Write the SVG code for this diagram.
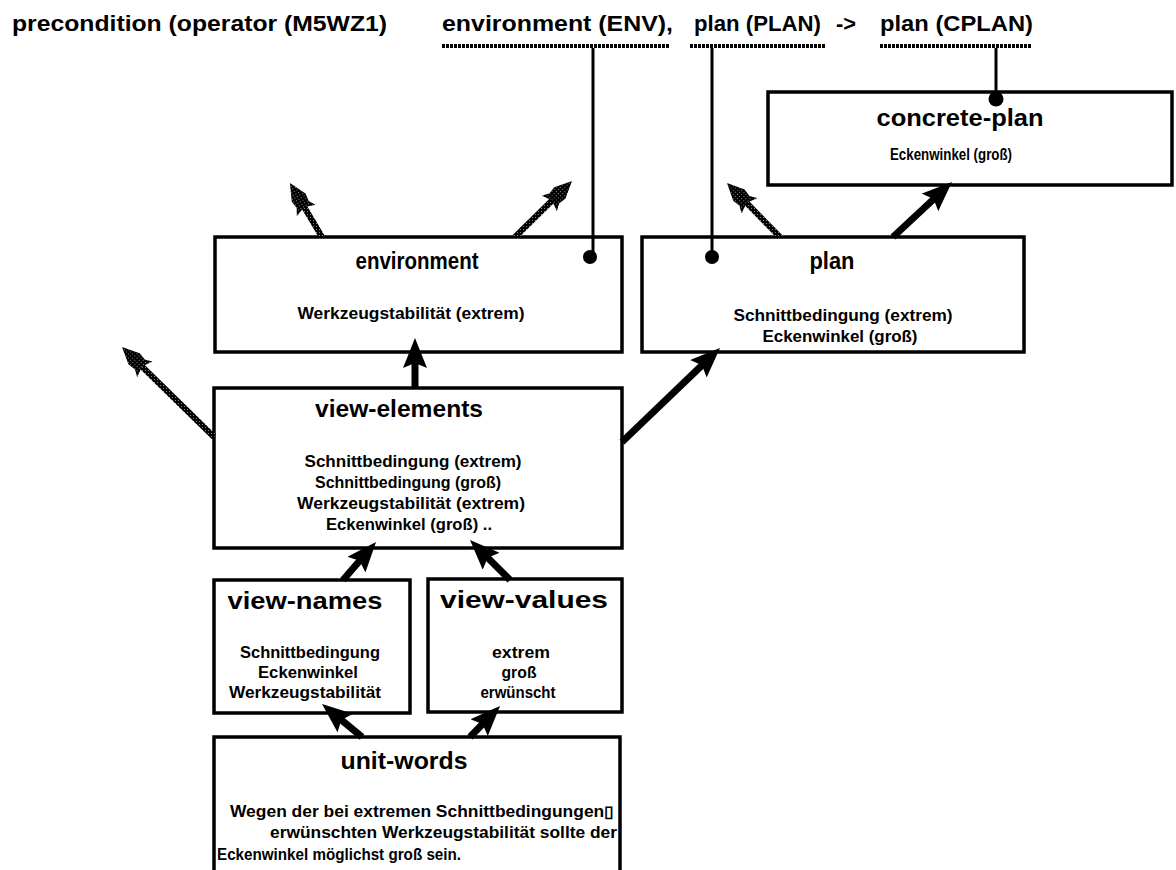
<svg xmlns="http://www.w3.org/2000/svg" width="1176" height="870" viewBox="0 0 1176 870">
<defs>
<pattern id="stip" width="3" height="3" patternUnits="userSpaceOnUse"><rect width="3" height="3" fill="#000"/><rect x="1" y="1" width="1" height="1" fill="#888"/></pattern>
<marker id="ah" viewBox="0 0 30 24" refX="15" refY="12" markerWidth="30" markerHeight="24" markerUnits="userSpaceOnUse" orient="auto"><path d="M0,0 L30,12 L0,24 L5,12 Z" fill="#000"/></marker>
<marker id="ag" viewBox="0 0 32 22" refX="17" refY="11" markerWidth="32" markerHeight="22" markerUnits="userSpaceOnUse" orient="auto"><path d="M0,0 L7,4 L15,3 L32,11 L15,19 L7,18 L0,22 L4,11 Z" fill="url(#stip)"/></marker>
<style>
.box{fill:#fff;stroke:#000;stroke-width:3.5}
.t{font-family:"Liberation Sans",Arial,sans-serif;font-weight:bold;fill:#000}
.h{font-size:22px}
.ti{font-size:24px;text-anchor:middle}
.b{font-size:16px;text-anchor:middle}
.bl{font-size:16px}
.ul{stroke:#000;stroke-width:4;stroke-dasharray:3 1;fill:none}
.ln{stroke:#000;stroke-width:3;fill:none}
.ab{stroke:#000;stroke-width:7;fill:none;marker-end:url(#ah)}
.ag{stroke:url(#stip);stroke-width:6;fill:none;marker-end:url(#ag)}
</style>
</defs>
<rect width="1176" height="870" fill="#fff"/>
<g id="header">
<text class="t h" x="12" y="31" textLength="375" lengthAdjust="spacingAndGlyphs">precondition (operator (M5WZ1)</text>
<text class="t h" x="442" y="31" textLength="231" lengthAdjust="spacingAndGlyphs">environment (ENV),</text>
<text class="t h" x="694" y="31" textLength="127" lengthAdjust="spacingAndGlyphs">plan (PLAN)</text>
<text class="t h" x="836" y="31" textLength="20" lengthAdjust="spacingAndGlyphs">-&gt;</text>
<text class="t h" x="880" y="31" textLength="153" lengthAdjust="spacingAndGlyphs">plan (CPLAN)</text>
<path class="ul" d="M442,46 H670 M690,46 H826 M880,46 H1032"/>
</g>
<g id="concrete-plan">
<rect class="box" x="768" y="92" width="404" height="93"/>
<text class="t ti" x="960" y="126" textLength="167" lengthAdjust="spacingAndGlyphs">concrete-plan</text>
<text class="t b" x="951" y="160" textLength="122" lengthAdjust="spacingAndGlyphs">Eckenwinkel (groß)</text>
</g>
<g id="environment">
<rect class="box" x="215" y="237" width="407" height="115"/>
<text class="t ti" x="417" y="269" textLength="123" lengthAdjust="spacingAndGlyphs">environment</text>
<text class="t b" x="411" y="319" textLength="227" lengthAdjust="spacingAndGlyphs">Werkzeugstabilität (extrem)</text>
</g>
<g id="plan">
<rect class="box" x="642" y="237" width="382" height="115"/>
<text class="t ti" x="832" y="269" textLength="45" lengthAdjust="spacingAndGlyphs">plan</text>
<text class="t b" x="843" y="321" textLength="219" lengthAdjust="spacingAndGlyphs">Schnittbedingung (extrem)</text>
<text class="t b" x="840" y="342" textLength="155" lengthAdjust="spacingAndGlyphs">Eckenwinkel (groß)</text>
</g>
<g id="view-elements">
<rect class="box" x="214" y="388" width="408" height="160"/>
<text class="t ti" x="399" y="417" textLength="168" lengthAdjust="spacingAndGlyphs">view-elements</text>
<text class="t b" x="413" y="467" textLength="217" lengthAdjust="spacingAndGlyphs">Schnittbedingung (extrem)</text>
<text class="t b" x="408" y="488" textLength="186" lengthAdjust="spacingAndGlyphs">Schnittbedingung (groß)</text>
<text class="t b" x="411" y="509" textLength="228" lengthAdjust="spacingAndGlyphs">Werkzeugstabilität (extrem)</text>
<text class="t b" x="409" y="530" textLength="166" lengthAdjust="spacingAndGlyphs">Eckenwinkel (groß) ..</text>
</g>
<g id="view-names">
<rect class="box" x="214" y="580" width="196" height="133"/>
<text class="t ti" x="305" y="609" textLength="155" lengthAdjust="spacingAndGlyphs">view-names</text>
<text class="t b" x="310" y="658" textLength="140" lengthAdjust="spacingAndGlyphs">Schnittbedingung</text>
<text class="t b" x="308" y="678" textLength="100" lengthAdjust="spacingAndGlyphs">Eckenwinkel</text>
<text class="t b" x="305" y="698" textLength="152" lengthAdjust="spacingAndGlyphs">Werkzeugstabilität</text>
</g>
<g id="view-values">
<rect class="box" x="428" y="579" width="194" height="133"/>
<text class="t ti" x="524" y="608" textLength="168" lengthAdjust="spacingAndGlyphs">view-values</text>
<text class="t b" x="521" y="658" textLength="58" lengthAdjust="spacingAndGlyphs">extrem</text>
<text class="t b" x="519" y="678" textLength="35" lengthAdjust="spacingAndGlyphs">groß</text>
<text class="t b" x="518" y="698" textLength="75" lengthAdjust="spacingAndGlyphs">erwünscht</text>
</g>
<g id="unit-words">
<rect class="box" x="214" y="737" width="406" height="150"/>
<text class="t ti" x="404" y="769" textLength="127" lengthAdjust="spacingAndGlyphs">unit-words</text>
<text class="t bl" x="230" y="817" textLength="384" lengthAdjust="spacingAndGlyphs">Wegen der bei extremen Schnittbedingungen▯</text>
<text class="t bl" x="270" y="838" textLength="347" lengthAdjust="spacingAndGlyphs">erwünschten Werkzeugstabilität sollte der</text>
<text class="t bl" x="217" y="860" textLength="244" lengthAdjust="spacingAndGlyphs">Eckenwinkel möglichst groß sein.</text>
</g>
<g id="connectors">
<path class="ln" d="M593,48 V257 M712,48 V257 M996,48 V99"/>
<circle cx="590" cy="257" r="7"/>
<circle cx="712" cy="257" r="7"/>
<circle cx="996" cy="99" r="7.5"/>
<line class="ag" x1="322" y1="237" x2="297.6" y2="195.9"/>
<line class="ag" x1="515" y1="237" x2="561.3" y2="191.5"/>
<line class="ag" x1="214" y1="437" x2="132.7" y2="357.5"/>
<line class="ag" x1="780" y1="237" x2="737.5" y2="193.7"/>
<line class="ab" x1="893" y1="237" x2="941" y2="192.2"/>
<line class="ab" x1="622" y1="442" x2="709.2" y2="358.4"/>
<line class="ab" x1="415" y1="388" x2="415" y2="353"/>
<line class="ab" x1="343" y1="580" x2="366.2" y2="553.3"/>
<line class="ab" x1="510" y1="580" x2="480.6" y2="550.6"/>
<line class="ab" x1="362" y1="737" x2="333.6" y2="713.5"/>
<line class="ab" x1="470" y1="737" x2="489.6" y2="716.8"/>
</g>
</svg>
